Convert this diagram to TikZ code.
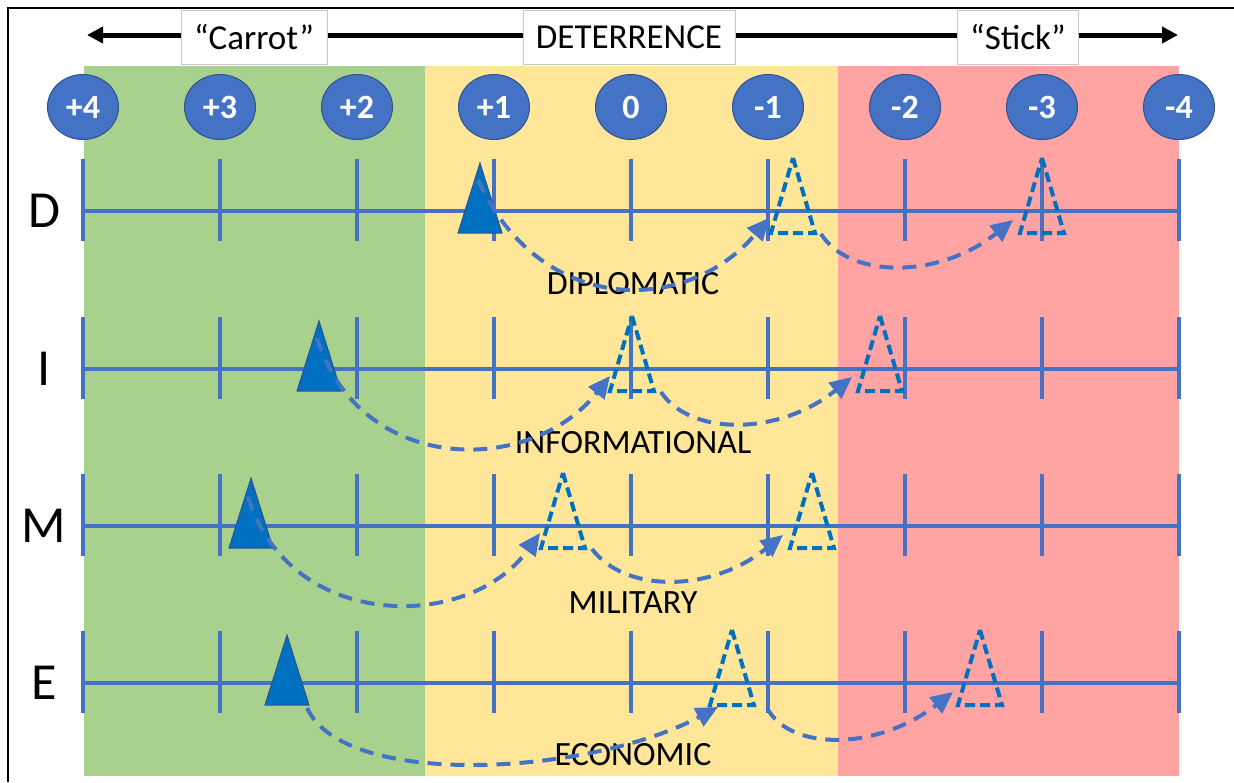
\documentclass[tikz,border=0pt]{standalone}
\usepackage{fontspec}
\setmainfont{Carlito}
\usetikzlibrary{arrows.meta,shapes.geometric,calc}

\definecolor{carrotzone}{HTML}{A9D18E}
\definecolor{deterzone}{HTML}{FFE699}
\definecolor{stickzone}{HTML}{FFA3A3}
\definecolor{scaleblue}{HTML}{4472C4}
\definecolor{scaleedge}{HTML}{2F528F}
\definecolor{markblue}{HTML}{0070C0}
\definecolor{boxgray}{HTML}{C8C8C8}

\begin{document}
\begin{tikzpicture}
[x=1pt,y=-1pt,
scorecirc/.style={ellipse,draw=scaleedge,line width=1pt,fill=scaleblue,text=white,
  minimum width=71pt,minimum height=65pt,inner sep=0pt,font=\fontsize{34}{34}\selectfont\bfseries},
capbox/.style={draw=boxgray,line width=1pt,fill=white,minimum height=54pt,inner sep=0pt,
  font=\fontsize{35}{35}\selectfont},
rowname/.style={font=\fontsize{52}{52}\selectfont},
areaname/.style={font=\fontsize{34}{34}\selectfont},
rowline/.style={draw=scaleblue,line width=4.5pt},
nowtri/.style={fill=markblue,draw=scaleedge,line width=1pt},
aimtri/.style={draw=markblue,line width=4pt,dash pattern=on 10pt off 5pt},
drift/.style={draw=scaleblue,line width=4pt,dash pattern=on 14pt off 9pt,
  -{Triangle[length=22pt,width=20pt]}}]

\useasboundingbox (0,0) rectangle (1234,782);

% zones
\fill[carrotzone] (84,66) rectangle (425,776);
\fill[deterzone] (425,66) rectangle (838,776);
\fill[stickzone] (838,66) rectangle (1179,776);
\draw[line width=1.5pt] (8,782) -- (8,8) -- (1234,8);

% carrot / stick scale
\coordinate (lefttip) at (87,35);
\coordinate (righttip) at (1178,35);
\draw[line width=5pt,{Triangle[length=16pt,width=16pt]}-{Triangle[length=16pt,width=16pt]}] (lefttip) -- (righttip);
\node[capbox,minimum width=146pt] (carrot) at (254,37) {“Carrot”};
\node[capbox,minimum width=212pt] (deter) at (629,37) {DETERRENCE};
\node[capbox,minimum width=121pt] (stick) at (1018,37) {“Stick”};

% score circles
\foreach \v [count=\i from 0] in {+4,+3,+2,+1,0,-1,-2,-3,-4}
  \node[scorecirc] (s\i) at ({83+137*\i},107) {\v};

% DIME rows
\foreach \r/\ry/\w/\wy in {D/211/DIPLOMATIC/284,I/369/INFORMATIONAL/443,M/526/MILITARY/603,E/683/ECONOMIC/755}{
  \node[rowname] (name\r) at (44,\ry) {\r};
  \node[areaname] (area\r) at (633,\wy) {\w};
  \draw[rowline] (83,\ry) -- (1180,\ry);
  \foreach \i in {0,...,8}
    \draw[rowline,line width=4pt] ({83+137*\i},{\ry-52}) -- ({83+137*\i},{\ry+30});
}

% where each lever stands now
\foreach \tn/\px/\ry in {D0/480/211,I0/319/369,M0/251/526,E0/287/683}{
  \coordinate (\tn-t) at ({\px},{\ry-48});
  \coordinate (\tn-l) at ({\px-22},{\ry+22});
  \coordinate (\tn-r) at ({\px+22},{\ry+22});
  \draw[nowtri] (\tn-t) -- (\tn-r) -- (\tn-l) -- cycle;
}

% where it could move to
\foreach \tn/\px/\ry in {D1/793/211,D2/1042/211,I1/632/369,I2/880/369,M1/563/526,M2/812/526,E1/732/683,E2/980/683}{
  \coordinate (\tn-t) at ({\px},{\ry-53});
  \coordinate (\tn-l) at ({\px-22},{\ry+22});
  \coordinate (\tn-r) at ({\px+22},{\ry+22});
  \draw[aimtri] (\tn-t) -- (\tn-r) -- (\tn-l) -- cycle;
}

% moves
\draw[drift] ($(D0-t)+(-2,17)$) .. controls +(62,136) and +(-83,98) .. ($(D1-l)+(-2,-15)$);
\draw[drift] ($(D1-r)+(6,1)$) .. controls +(29,45) and +(-74,59) .. ($(D2-l)+(-7,-13)$);
\draw[drift] ($(I0-t)+(-2,17)$) .. controls +(43,138) and +(-79,100) .. ($(I1-l)+(0,-15)$);
\draw[drift] ($(I1-r)+(7,1)$) .. controls +(29,44) and +(-73,59) .. ($(I2-l)+(-6,-14)$);
\draw[drift] ($(M0-t)+(-3,19)$) .. controls +(42,135) and +(-71,99) .. ($(M1-l)+(-1,-15)$);
\draw[drift] ($(M1-r)+(7,1)$) .. controls +(33,44) and +(-72,58) .. ($(M2-l)+(-7,-13)$);
\draw[drift] ($(E0-r)+(-2,3)$) .. controls +(38,82) and +(-128,68) .. ($(E1-l)+(8,2)$);
\draw[drift] ($(E1-r)+(13,3)$) .. controls +(23,43) and +(-76,59) .. ($(E2-l)+(-5,-13)$);
\end{tikzpicture}
\end{document}
